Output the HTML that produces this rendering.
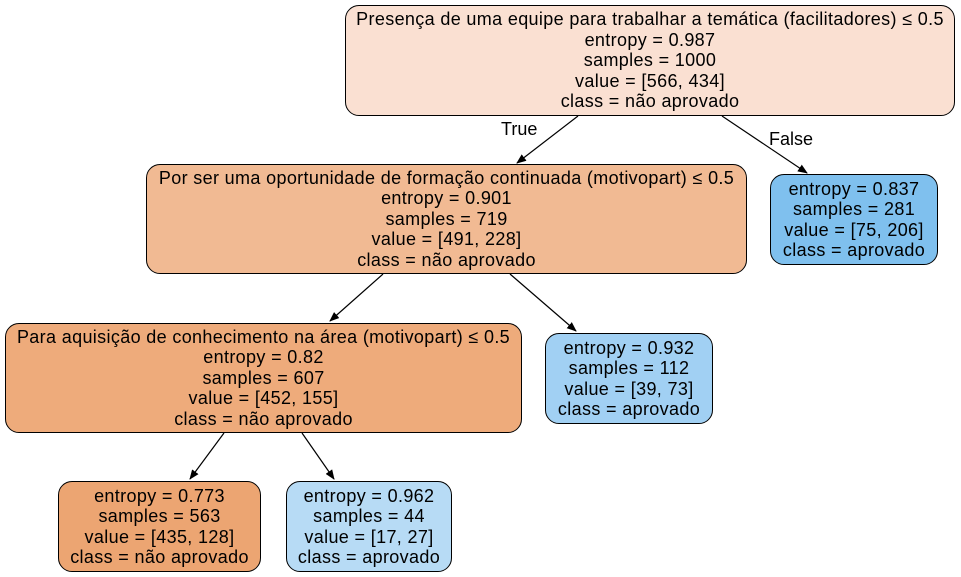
<!DOCTYPE html>
<html><head><meta charset="utf-8"><style>
body{margin:0;width:961px;height:577px;background:#fff;position:relative;overflow:hidden;font-family:"Liberation Sans",Arial,sans-serif;}
.n{position:absolute;box-sizing:border-box;border:1px solid #000;border-radius:14px;text-align:center;font-size:18px;letter-spacing:0.35px;line-height:20.5px;color:#000;display:flex;flex-direction:column;justify-content:center;white-space:nowrap;}
svg{position:absolute;left:0;top:0;}
.l{position:absolute;font-size:18px;}
</style></head><body>
<svg width="961" height="577">
<defs><marker id="a" markerWidth="10" markerHeight="8" refX="9" refY="4" orient="auto" markerUnits="userSpaceOnUse"><path d="M0,0L10,4L0,8z" fill="#000"/></marker></defs>
<g stroke="#000" stroke-width="1.2">
<line x1="578" y1="116" x2="517" y2="163" marker-end="url(#a)"/>
<line x1="722" y1="116" x2="807" y2="173" marker-end="url(#a)"/>
<line x1="383" y1="274" x2="330" y2="321" marker-end="url(#a)"/>
<line x1="510" y1="274" x2="576" y2="331" marker-end="url(#a)"/>
<line x1="224" y1="433" x2="190" y2="479" marker-end="url(#a)"/>
<line x1="302" y1="433" x2="334" y2="479" marker-end="url(#a)"/>
</g></svg>
<div class="l" style="left:501px;top:119px">True</div>
<div class="l" style="left:769px;top:129px">False</div>
<div class="n" style="left:345px;top:5px;width:610px;height:111px;background:#fae0d2">Presença de uma equipe para trabalhar a temática (facilitadores) ≤ 0.5<br>entropy = 0.987<br>samples = 1000<br>value = [566, 434]<br>class = não aprovado</div>
<div class="n" style="left:146px;top:164px;width:601px;height:110px;background:#f1ba93">Por ser uma oportunidade de formação continuada (motivopart) ≤ 0.5<br>entropy = 0.901<br>samples = 719<br>value = [491, 228]<br>class = não aprovado</div>
<div class="n" style="left:770px;top:174px;width:168px;height:91px;background:#7fc0ee">entropy = 0.837<br>samples = 281<br>value = [75, 206]<br>class = aprovado</div>
<div class="n" style="left:5px;top:323px;width:517px;height:110px;background:#eeab7b">Para aquisição de conhecimento na área (motivopart) ≤ 0.5<br>entropy = 0.82<br>samples = 607<br>value = [452, 155]<br>class = não aprovado</div>
<div class="n" style="left:545px;top:333px;width:168px;height:91px;background:#a1d0f3">entropy = 0.932<br>samples = 112<br>value = [39, 73]<br>class = aprovado</div>
<div class="n" style="left:58px;top:481px;width:203px;height:91px;background:#eca572">entropy = 0.773<br>samples = 563<br>value = [435, 128]<br>class = não aprovado</div>
<div class="n" style="left:286px;top:481px;width:166px;height:91px;background:#b7dbf5">entropy = 0.962<br>samples = 44<br>value = [17, 27]<br>class = aprovado</div>
</body></html>
